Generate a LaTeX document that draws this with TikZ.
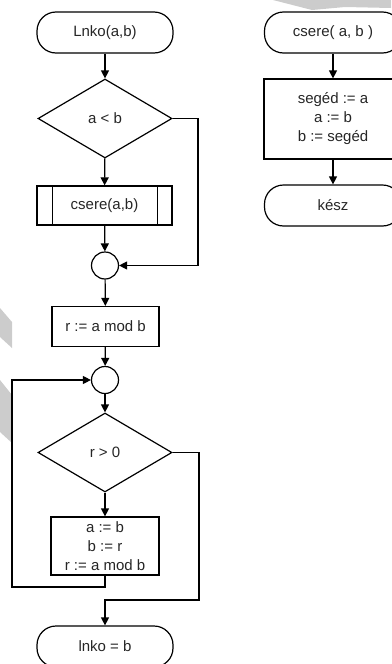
\documentclass[tikz,border=0pt]{standalone}
\usepackage{fontspec}
\setmainfont{Liberation Sans}
\usetikzlibrary{shapes.geometric,arrows.meta}

\begin{document}
\begin{tikzpicture}[x=1pt,y=-1pt,line width=1.2pt,
        every node/.style={font=\fontsize{15}{19}\selectfont, text=black!85, inner sep=0pt},
        term/.style={draw, rectangle, rounded corners=19pt, minimum width=136pt, minimum height=41pt},
        cond/.style={draw, diamond, minimum width=134pt, minimum height=79pt},
        proc/.style={draw, rectangle, align=center, minimum width=107pt, minimum height=40pt},
        junc/.style={draw, circle, minimum size=27pt},
        arr/.style={-{Triangle[length=8pt,width=8pt]}}]
        \useasboundingbox (0,0) rectangle (391,664);

        % Background marks
        \fill[gray!40] (0,308) -- (12,322) -- (12,348) -- (0,337) -- cycle;
        \fill[gray!40] (0,380) -- (12,395) -- (12,443) -- (0,432) -- cycle;
        \fill[gray!40] (273,0) -- (391,0) -- (391,8) -- (345,7) -- (312,10) -- cycle;

        % Main routine
        \node[term] (lnko) at (105,32.5) {Lnko(a,b)};
        \node[cond] (cond1) at (105,118.5) {a < b};
        \node[proc, minimum width=135pt, minimum height=39pt] (csere) at (104.5,205.5) {csere(a,b)};
        \draw ([xshift=16pt]csere.north west) -- ([xshift=16pt]csere.south west);
        \draw ([xshift=-15pt]csere.north east) -- ([xshift=-15pt]csere.south east);
        \node[junc] (junc1) at (105,265.5) {};
        \node[proc] (modr) at (105.5,326.5) {r := a mod b};
        \node[junc] (junc2) at (105,380) {};
        \node[cond] (cond2) at (105,452.5) {r > 0};
        \node[proc, minimum width=108pt, minimum height=58pt] (body) at (105,546) {a := b\\ b := r\\ r := a mod b};
        \node[term] (lnkob) at (105,646.5) {lnko = b};

        % Swap routine
        \node[term, minimum width=137pt] (cserehead) at (333,32.5) {csere( a, b )};
        \node[proc, minimum width=138pt, minimum height=80pt] (seged) at (333,119) {segéd := a\\ a := b\\ b := segéd};
        \node[term, minimum width=137pt] (kesz) at (333,205.5) {kész};

        % Turning points
        \coordinate (rside1) at (198,118.5);
        \coordinate (loopl) at (12,587);
        \coordinate (rdown) at (199,600);

        % Arrows
        \draw[arr] (lnko) -- (cond1);
        \draw[arr] (cond1) -- (csere);
        \draw[arr] (csere) -- (junc1);
        \draw[arr] (cond1.east) -- (rside1) |- (junc1);
        \draw[arr] (junc1) -- (modr);
        \draw[arr] (modr) -- (junc2);
        \draw[arr] (junc2) -- (cond2);
        \draw[arr] (cond2) -- (body);
        \draw[arr] (body.south) |- (loopl) |- (junc2);
        \draw[arr] (cond2.east) -| (rdown) -| (lnkob);
        \draw[arr] (cserehead) -- (seged);
        \draw[arr] (seged) -- (kesz);
    \end{tikzpicture}
\end{document}
